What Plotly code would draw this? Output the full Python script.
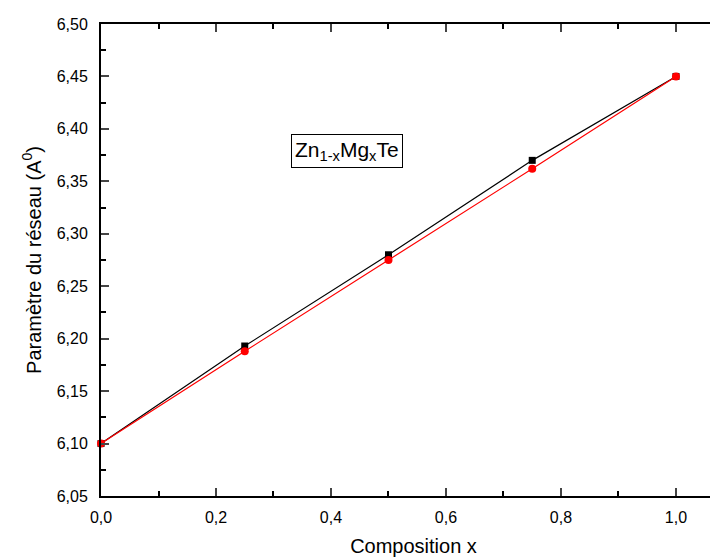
import plotly.graph_objects as go

composition = [0.0, 0.25, 0.5, 0.75, 1.0]
black_values = [6.100, 6.193, 6.280, 6.370, 6.450]
red_values = [6.100, 6.188, 6.275, 6.362, 6.450]

fig = go.Figure()
fig.add_trace(go.Scatter(x=composition, y=black_values, mode="lines+markers",
                         line=dict(color="black", width=1.2),
                         marker=dict(symbol="square", size=7, color="black"),
                         showlegend=False, cliponaxis=False))
fig.add_trace(go.Scatter(x=composition, y=red_values, mode="lines+markers",
                         line=dict(color="red", width=1.2),
                         marker=dict(symbol="circle", size=8, color="red"),
                         showlegend=False, cliponaxis=False))

font = "Liberation Sans, Arial, sans-serif"
fig.update_layout(
    width=718, height=558,
    margin=dict(l=93, r=0, t=16, b=70),
    plot_bgcolor="white", paper_bgcolor="white",
    separators=", ",
    font=dict(family=font, color="black", size=16),
    xaxis=dict(range=[0, 1.087], tickvals=[0, 0.2, 0.4, 0.6, 0.8, 1.0],
               tickformat=".1f", ticks="inside", ticklen=8, tickwidth=1.5,
               ticklabelstandoff=6,
               showline=True, linecolor="black", linewidth=2, mirror="ticks",
               showgrid=False, zeroline=False,
               minor=dict(tickvals=[0.1, 0.3, 0.5, 0.7, 0.9], ticks="inside", ticklen=5, tickcolor="black"),
               title=dict(text="Composition x", font=dict(size=20), standoff=14)),
    yaxis=dict(range=[6.05, 6.50], tickvals=[6.05 + 0.05 * i for i in range(10)],
               tickformat=".2f", ticks="inside", ticklen=8, tickwidth=1.5,
               ticklabelstandoff=8,
               showline=True, linecolor="black", linewidth=2,
               showgrid=False, zeroline=False,
               minor=dict(tickvals=[6.075 + 0.05 * i for i in range(9)], ticks="inside", ticklen=5, tickcolor="black"),
               title=dict(text="Paramètre du réseau (A<sup>0</sup>)", font=dict(size=20), standoff=10)),
    annotations=[dict(x=0.428, y=6.379, xref="x", yref="y",
                      text="Zn<sub>1-x</sub>Mg<sub>x</sub>Te", showarrow=False,
                      font=dict(size=21, family=font), bordercolor="black", borderwidth=1,
                      borderpad=3, bgcolor="white")],
)

fig.write_html("out.html")
